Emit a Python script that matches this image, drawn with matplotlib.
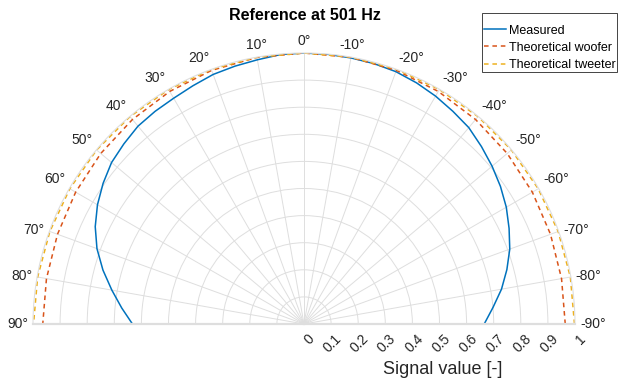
import numpy as np
import matplotlib.pyplot as plt
from matplotlib.patches import Rectangle

plt.rcParams['font.family'] = ['Liberation Sans', 'DejaVu Sans']

# measured directivity, 5 deg steps (positive angles = left side)
meas_angles = np.arange(-90, 91, 5)
measured = [0.665, 0.70, 0.74, 0.775, 0.808, 0.835, 0.862, 0.885, 0.906, 0.926,
            0.946, 0.958, 0.971, 0.982, 0.991, 0.995, 0.997, 0.999, 1.0,
            0.998, 0.99, 0.985, 0.98, 0.97, 0.962, 0.958, 0.953, 0.94,
            0.927, 0.905, 0.88, 0.85, 0.813, 0.768, 0.72, 0.675, 0.633]

theo_angles = np.arange(-90, 91, 10)
woofer = [0.964, 0.965, 0.968, 0.973, 0.979, 0.985, 0.991, 0.996, 0.999, 1.0,
          0.999, 0.996, 0.991, 0.985, 0.979, 0.973, 0.968, 0.965, 0.964]
tweeter = [0.998, 0.998, 0.998, 0.998, 0.999, 0.999, 0.999, 1.0, 1.0, 1.0,
           1.0, 1.0, 0.999, 0.999, 0.999, 0.998, 0.998, 0.998, 0.998]

theta_ticks = np.arange(-90, 91, 10)
r_ticks = np.round(np.arange(0, 1.01, 0.1), 1)
r_labels = ['0', '0.1', '0.2', '0.3', '0.4', '0.5', '0.6', '0.7', '0.8', '0.9', '1']

W, H, DPI = 621, 381, 100
fig = plt.figure(figsize=(W / DPI, H / DPI), dpi=DPI)
cx, cy, R = 304, 324, 271
# the half wedge sits in the middle of a square axes box
ax = fig.add_axes([(cx - R) / W, (H - cy - R / 2) / H, 2 * R / W, 2 * R / H],
                  projection='polar')
ax.set_theta_zero_location('N')
ax.set_theta_direction(1)
ax.set_thetamin(-90)
ax.set_thetamax(90)
ax.set_rlim(0, 1)

grid_c = '#dedede'
ax.set_xticks(np.deg2rad(theta_ticks))
ax.set_xticklabels([])
ax.set_yticks(r_ticks[1:-1])
ax.set_yticklabels([])
ax.tick_params(length=0)
ax.grid(True, color=grid_c, lw=0.7)
ax.spines['polar'].set_color(grid_c)
ax.spines['polar'].set_linewidth(0.8)
for s in ['start', 'end']:
    ax.spines[s].set_color(grid_c)
    ax.spines[s].set_linewidth(1.6)
ax.spines['inner'].set_visible(False)

ax.plot(np.deg2rad(meas_angles), measured, color='#0072BD', lw=1.1, label='Measured')
ax.plot(np.deg2rad(theo_angles), woofer, color='#D95319', lw=1.1, ls=(0, (3, 2.5)),
        label='Theoretical woofer')
ax.plot(np.deg2rad(theo_angles), tweeter, color='#EDB120', lw=1.1, ls=(0, (3, 2.5)),
        label='Theoretical tweeter')

# theta labels, aligned outside the circle like matlab does
px2pt = 72 / DPI
txt_c = '#262626'
for a in theta_ticks:
    nx, ny = -np.sin(np.deg2rad(a)), np.cos(np.deg2rad(a))
    ha = 'center' if abs(a) < 15 else ('right' if a > 0 else 'left')
    va = 'bottom' if abs(a) < 65 else 'center'
    ax.annotate('%d°' % a, xy=(np.deg2rad(a), 1), xycoords='data',
                xytext=(5 * nx * px2pt, 5 * ny * px2pt), textcoords='offset points',
                ha=ha, va=va, fontsize=10, color=txt_c, annotation_clip=False)

# radial labels below the baseline
for r, lab in zip(r_ticks, r_labels):
    ax.annotate(lab, xy=(np.deg2rad(-90), r), xycoords='data',
                xytext=(2.5, -5.5), textcoords='offset points', rotation=45,
                rotation_mode='anchor', ha='right', va='top', fontsize=10,
                color=txt_c, annotation_clip=False)

fig.text(442.5 / W, 1 - 369 / H, 'Signal value [-]', ha='center', va='center',
         fontsize=13, color=txt_c)
fig.text(305 / W, 1 - 15 / H, 'Reference at 501 Hz', ha='center', va='center',
         fontsize=11.5, fontweight='bold')

# legend box drawn separately (matlab pads it unevenly)
fig.add_artist(Rectangle((482 / W, 1 - 72 / H), 135 / W, 59 / H, transform=fig.transFigure,
                         facecolor='white', edgecolor='#262626', lw=0.6, zorder=5))
leg = fig.legend(loc='upper right', bbox_to_anchor=(616 / W, 1 - 24.5 / H),
                 fontsize=9, handlelength=1.76, handletextpad=0.24, labelspacing=0.42,
                 borderpad=0, borderaxespad=0, frameon=False)
leg.set_zorder(6)

fig.savefig('out.png', dpi=DPI)
